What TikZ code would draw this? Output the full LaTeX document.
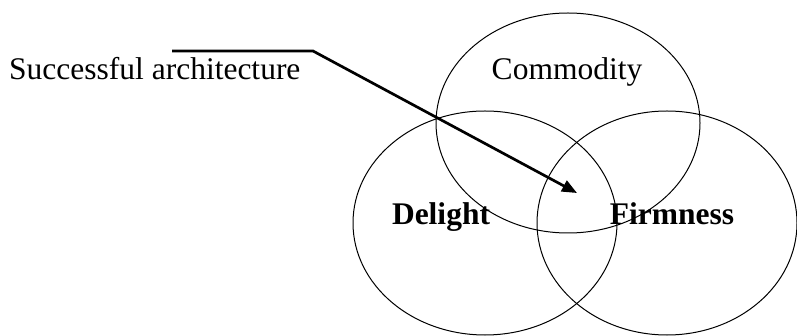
\documentclass[tikz,border=0pt]{standalone}
\usepackage{fontspec}
\setmainfont{Liberation Serif}
\usetikzlibrary{arrows.meta, positioning}
\newcommand{\vennring}[2]{
\draw[line width=1pt] (#1) ellipse (#2);
}

\begin{document}
\begin{tikzpicture}[x=1pt, y=-1pt, font=\fontsize{31.5}{37}\selectfont,
    label/.style={inner sep=0pt, anchor=base}]
    \useasboundingbox (0,0) rectangle (797,336);
    % the three rings
    \coordinate (commodityc) at (568,123);
    \coordinate (delightc) at (485,223);
    \coordinate (firmnessc) at (667,223);
    \vennring{commodityc}{132pt and 110pt}
    \vennring{delightc}{132pt and 112pt}
    \vennring{firmnessc}{130pt and 112pt}
    \node[label] (commodity) at (567,80) {Commodity};
    \node[label, font=\fontsize{31.5}{37}\selectfont\bfseries] (delight) at (441,225) {Delight};
    \node[label, font=\fontsize{31.5}{37}\selectfont\bfseries] (firmness) at (672,225) {Firmness};
    % pointer
    \node[label, anchor=base west] (success) at (9,80) {Successful architecture};
    \coordinate (linestart) at (172,51);
    \coordinate (bend) at (313,51);
    \coordinate (tip) at (577,193);
    \draw[line width=2.7pt, -{Triangle[length=15pt, width=12pt]}] (linestart) -- (bend) -- (tip);
\end{tikzpicture}
\end{document}
